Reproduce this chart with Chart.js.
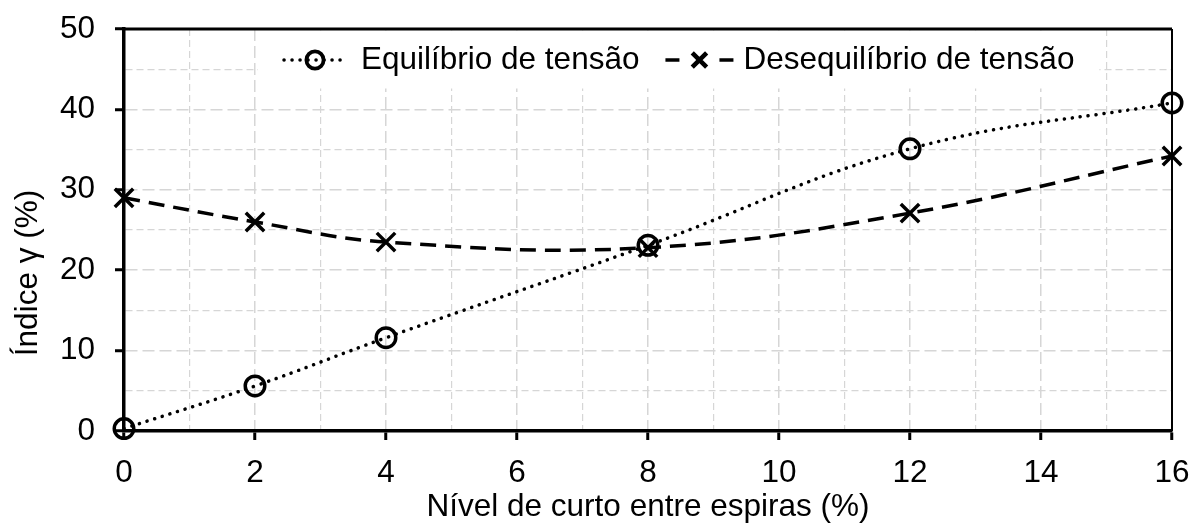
<!DOCTYPE html>
<html>
<head>
<meta charset="utf-8">
<script src="https://cdn.jsdelivr.net/npm/chart.js@4"></script>
<style>
  html, body { margin: 0; padding: 0; background: #fff; }
  #wrap { width: 1194px; height: 524px; }
</style>
</head>
<body>
<div id="wrap"><canvas id="c"></canvas></div>
<script>
// Short-circuit level between turns (%) and the resulting index (%)
const nivelCurto    = [0, 2, 4, 8, 12, 16];
const equilibrio    = [0.3, 5.6, 11.6, 23.1, 35.1, 40.8];
const desequilibrio = [29.0, 26.0, 23.5, 22.8, 27.1, 34.2];

const xTicks = [0, 2, 4, 6, 8, 10, 12, 14, 16];
const yTicks = [0, 10, 20, 30, 40, 50];

const seriesNames = ['Equilíbrio de tensão', 'Desequilíbrio de tensão'];
const xTitle = 'Nível de curto entre espiras (%)';
const yTitle = 'Índice γ (%)';

const FONT_FAMILY = '"Liberation Sans", Arial, sans-serif';
const FONT_SIZE = 31.5;
const GRID_COLOR = '#d6d6d6';

function isMajor(list, v) { return list.includes(v); }

function gridFor(list) {
  return {
    color: GRID_COLOR,
    lineWidth: (c) => (c.tick && isMajor(list, c.tick.value)) ? 1.5 : 1.2,
    drawTicks: true,
    tickLength: 9,
    tickWidth: 3,
    tickColor: (c) => (c.tick && isMajor(list, c.tick.value)) ? '#000' : 'rgba(0,0,0,0)'
  };
}
function borderFor(list, width) {
  return {
    display: true,
    color: '#000',
    width: width,
    dash: (c) => (c.tick && isMajor(list, c.tick.value)) ? [12, 5] : [7, 4]
  };
}
// Fixed axis size; label overflow is absorbed by the layout padding
function fixSize(prop, size) {
  return (s) => {
    s[prop] = size;
    s.paddingTop = 0; s.paddingBottom = 0; s.paddingLeft = 0; s.paddingRight = 0;
  };
}

// Legend drawn inside the plot, on a white box, with line + marker samples
const legendaInterna = {
  id: 'legendaInterna',
  afterDraw(chart) {
    const { ctx, chartArea } = chart;
    const ds = chart.data.datasets;
    ctx.save();
    ctx.font = FONT_SIZE + 'px ' + FONT_FAMILY;
    const pad = 25, sampleW = 64, textGap = 14, itemGap = 26;
    const w1 = ctx.measureText(ds[0].label).width;
    const w2 = ctx.measureText(ds[1].label).width;
    const boxL = chartArea.left + 134;
    const boxT = chartArea.top + 1.5;
    const boxW = pad + sampleW + textGap + w1 + itemGap + sampleW + textGap + w2 + pad;
    const boxH = 58;
    ctx.fillStyle = '#fff';
    ctx.fillRect(boxL, boxT, boxW, boxH);

    const cy = chartArea.top + 31;
    let x = boxL + pad;

    // sample 1: dotted line with hollow circle
    ctx.strokeStyle = '#000';
    ctx.lineWidth = ds[0].borderWidth;
    ctx.lineCap = 'round';
    ctx.setLineDash(ds[0].borderDash);
    ctx.beginPath(); ctx.moveTo(x + 1, cy); ctx.lineTo(x + sampleW, cy); ctx.stroke();
    ctx.setLineDash([]);
    ctx.lineWidth = 3.8;
    ctx.beginPath(); ctx.arc(x + sampleW / 2, cy, 8.6, 0, Math.PI * 2); ctx.stroke();
    x += sampleW + textGap;
    ctx.fillStyle = '#000';
    ctx.textBaseline = 'middle';
    ctx.textAlign = 'left';
    ctx.fillText(ds[0].label, x, cy);
    x += w1 + itemGap;

    // sample 2: dashed line with cross
    ctx.lineWidth = ds[1].borderWidth;
    ctx.lineCap = 'butt';
    ctx.setLineDash([14, 40]);
    ctx.beginPath(); ctx.moveTo(x, cy); ctx.lineTo(x + sampleW + 4, cy); ctx.stroke();
    ctx.setLineDash([]);
    const cx = x + (sampleW + 4) / 2, r = 7.2;
    ctx.lineWidth = 4.5;
    ctx.beginPath();
    ctx.moveTo(cx - r, cy - r); ctx.lineTo(cx + r, cy + r);
    ctx.moveTo(cx + r, cy - r); ctx.lineTo(cx - r, cy + r);
    ctx.stroke();
    x += sampleW + 4 + textGap - 4;
    ctx.fillText(ds[1].label, x, cy);
    ctx.restore();
  }
};

// Top and right edges of the plot frame, plus the rotated y-axis title
const moldura = {
  id: 'moldura',
  afterDraw(chart) {
    const { ctx, chartArea: a } = chart;
    ctx.save();
    ctx.strokeStyle = '#000';
    ctx.lineWidth = 3;
    ctx.beginPath(); ctx.moveTo(a.left - 1.5, a.top); ctx.lineTo(a.right, a.top); ctx.stroke();
    ctx.lineWidth = 2;
    ctx.beginPath(); ctx.moveTo(a.right, a.top); ctx.lineTo(a.right, a.bottom); ctx.stroke();

    ctx.translate(28, (a.top + a.bottom) / 2 + 43);
    ctx.rotate(-Math.PI / 2);
    ctx.font = FONT_SIZE + 'px ' + FONT_FAMILY;
    ctx.fillStyle = '#000';
    ctx.textAlign = 'center';
    ctx.textBaseline = 'middle';
    ctx.fillText(yTitle, 0, 0);
    ctx.restore();
  }
};

new Chart(document.getElementById('c'), {
  type: 'line',
  data: {
    datasets: [
      {
        label: seriesNames[0],
        data: nivelCurto.map((x, i) => ({ x: x, y: equilibrio[i] })),
        borderColor: '#000',
        borderWidth: 3.5,
        borderDash: [0.1, 7.9],
        borderCapStyle: 'round',
        tension: 0.4,
        fill: false,
        pointStyle: 'circle',
        pointRadius: 9.75,
        pointBorderWidth: 3.5,
        pointBorderColor: '#000',
        pointBackgroundColor: 'rgba(0,0,0,0)',
        clip: false
      },
      {
        label: seriesNames[1],
        data: nivelCurto.map((x, i) => ({ x: x, y: desequilibrio[i] })),
        borderColor: '#000',
        borderWidth: 3.5,
        borderDash: [16, 9],
        borderCapStyle: 'butt',
        tension: 0.4,
        fill: false,
        pointStyle: 'crossRot',
        pointRadius: 13,
        pointBorderWidth: 3.5,
        pointBorderColor: '#000',
        pointBackgroundColor: 'rgba(0,0,0,0)',
        clip: false
      }
    ]
  },
  options: {
    responsive: true,
    maintainAspectRatio: false,
    animation: false,
    layout: { padding: { top: 29, right: 22, left: 0, bottom: 0 } },
    plugins: { legend: { display: false }, tooltip: { enabled: false } },
    scales: {
      x: {
        type: 'linear',
        min: 0, max: 16,
        afterFit: fixSize('height', 93),
        ticks: {
          stepSize: 1,
          autoSkip: false,
          maxRotation: 0,
          padding: 14,
          color: '#000',
          font: { family: FONT_FAMILY, size: FONT_SIZE },
          callback: (v) => isMajor(xTicks, v) ? String(v) : ''
        },
        grid: gridFor(xTicks),
        border: borderFor(xTicks, 3.5),
        title: {
          display: true,
          text: xTitle,
          color: '#000',
          font: { family: FONT_FAMILY, size: FONT_SIZE, lineHeight: 1 },
          padding: { top: 0, bottom: 1 }
        }
      },
      y: {
        min: 0, max: 50,
        afterFit: fixSize('width', 124),
        ticks: {
          stepSize: 5,
          autoSkip: false,
          padding: 20,
          color: '#000',
          font: { family: FONT_FAMILY, size: FONT_SIZE },
          callback: (v) => isMajor(yTicks, v) ? String(v) : ''
        },
        grid: gridFor(yTicks),
        border: borderFor(yTicks, 3.5)
      }
    }
  },
  plugins: [legendaInterna, moldura]
});
</script>
</body>
</html>
